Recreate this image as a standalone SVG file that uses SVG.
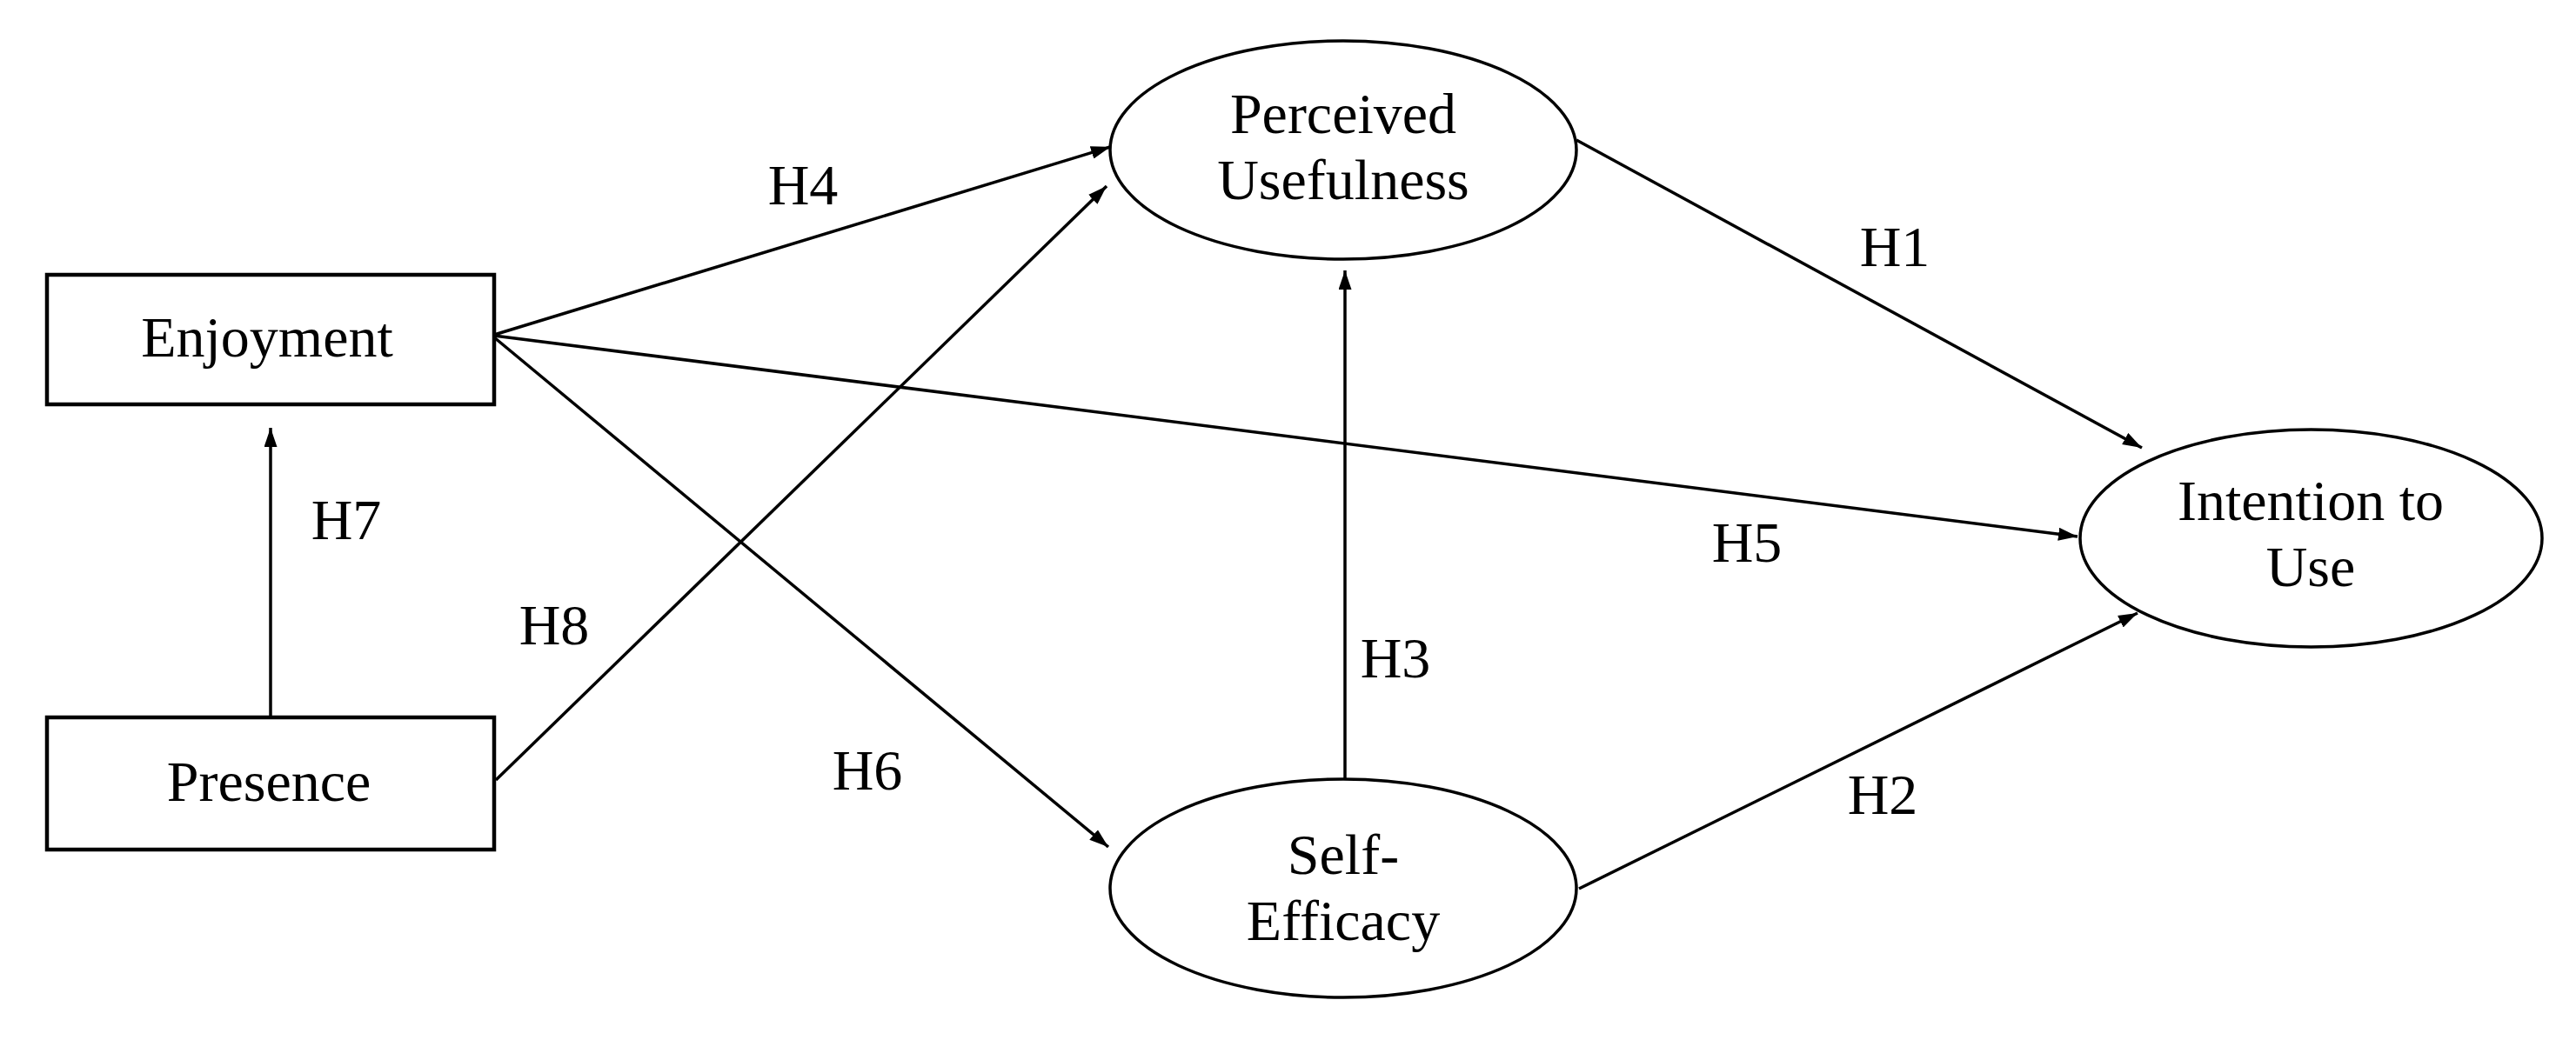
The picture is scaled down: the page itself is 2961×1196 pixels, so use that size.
<svg xmlns="http://www.w3.org/2000/svg" width="2961" height="1196" viewBox="0 0 2961 1196">
<style>
.box{fill:#fff;stroke:#000;stroke-width:4.5}
.ell{fill:#fff;stroke:#000;stroke-width:3.5}
.lbl{font-family:"Liberation Serif","Times New Roman",serif;font-size:66px;fill:#000;text-anchor:middle}
.con{stroke:#000;stroke-width:3.5;fill:none;marker-end:url(#arr)}
</style>
<defs>
<marker id="arr" markerUnits="userSpaceOnUse" markerWidth="22" markerHeight="15" viewBox="0 0 22 15" refX="22" refY="7.5" orient="auto">
<path d="M0,0 L22,7.5 L0,15 z" fill="#000"/>
</marker>
</defs>
<rect width="2961" height="1196" fill="#fff"/>
<g id="connectors">
<line class="con" x1="311" y1="825" x2="311" y2="492"/>
<line class="con" x1="568" y1="385" x2="1276" y2="169"/>
<line class="con" x1="568" y1="386" x2="2388" y2="617"/>
<line class="con" x1="568" y1="388" x2="1274" y2="974"/>
<line class="con" x1="570" y1="897" x2="1272" y2="214"/>
<line class="con" x1="1546" y1="896" x2="1546" y2="311"/>
<line class="con" x1="1812" y1="161" x2="2462" y2="515"/>
<line class="con" x1="1815" y1="1022" x2="2457" y2="705"/>
<text class="lbl" x="923" y="235">H4</text>
<text class="lbl" x="2178" y="306">H1</text>
<text class="lbl" x="398" y="620">H7</text>
<text class="lbl" x="637" y="741">H8</text>
<text class="lbl" x="997" y="908">H6</text>
<text class="lbl" x="2008" y="646">H5</text>
<text class="lbl" x="1604" y="779">H3</text>
<text class="lbl" x="2164" y="936">H2</text>
</g>
<g id="enjoyment">
<rect class="box" x="54" y="316" width="514" height="149"/>
<text class="lbl" x="307" y="410">Enjoyment</text>
</g>
<g id="presence">
<rect class="box" x="54" y="825" width="514" height="152"/>
<text class="lbl" x="309" y="921">Presence</text>
</g>
<g id="perceived-usefulness">
<ellipse class="ell" cx="1544" cy="172.5" rx="268" ry="125.5"/>
<text class="lbl" x="1544" y="153">Perceived</text>
<text class="lbl" x="1544" y="229">Usefulness</text>
</g>
<g id="self-efficacy">
<ellipse class="ell" cx="1544" cy="1021.5" rx="268" ry="125.5"/>
<text class="lbl" x="1544" y="1005">Self-</text>
<text class="lbl" x="1544" y="1081">Efficacy</text>
</g>
<g id="intention-to-use">
<ellipse class="ell" cx="2656.5" cy="619" rx="265.5" ry="125"/>
<text class="lbl" x="2656" y="598">Intention to</text>
<text class="lbl" x="2656" y="674">Use</text>
</g>
</svg>
